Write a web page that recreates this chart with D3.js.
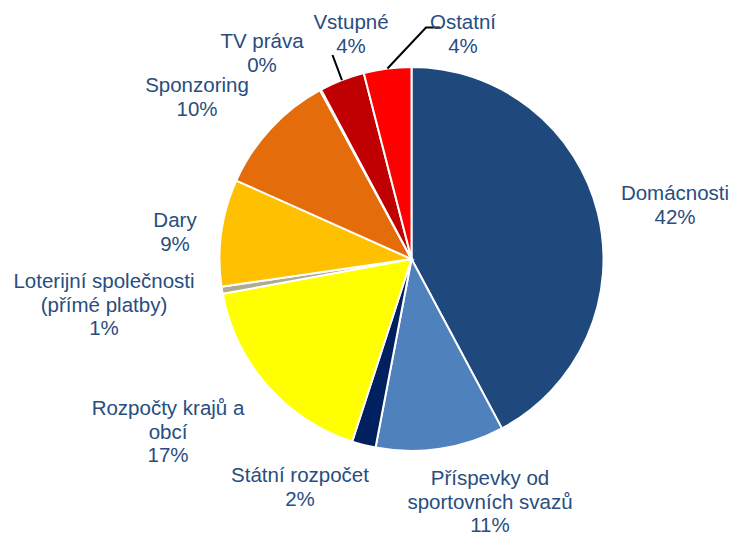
<!DOCTYPE html>
<html>
<head>
<meta charset="utf-8">
<script src="https://cdn.jsdelivr.net/npm/d3@7"></script>
<style>
  body { margin: 0; background: #fff; }
  text { font-family: "Liberation Sans", Arial, sans-serif; }
</style>
</head>
<body>
<div id="chart"></div>
<script>
// -------------------- DATA --------------------
const categories = [
  "Domácnosti", "Příspevky od sportovních svazů", "Státní rozpočet",
  "Rozpočty krajů a obcí", "Loterijní společnosti (přímé platby)", "Dary",
  "Sponzoring", "TV práva", "Vstupné", "Ostatní"
];
const shares = [42.2, 10.8, 2.0, 17.1, 0.6, 9.0, 10.4, 0.1, 3.8, 4.0];
const labelLines = [
  ["Domácnosti"],
  ["Příspevky od", "sportovních svazů"],
  ["Státní rozpočet"],
  ["Rozpočty krajů a", "obcí"],
  ["Loterijní společnosti", "(přímé platby)"],
  ["Dary"],
  ["Sponzoring"],
  ["TV práva"],
  ["Vstupné"],
  ["Ostatní"]
];
const colors = [
  "#1f497d", "#4f81bd", "#002060", "#ffff00", "#b0aa8f",
  "#ffc000", "#e46c0a", "#c0504d", "#c00000", "#ff0000"
];

// label layout: centre x and first baseline y
const labelPos = {
  "Domácnosti": [675, 200],
  "Příspevky od sportovních svazů": [490, 485],
  "Státní rozpočet": [300, 482],
  "Rozpočty krajů a obcí": [168, 415],
  "Loterijní společnosti (přímé platby)": [104, 288],
  "Dary": [175, 227],
  "Sponzoring": [197, 92],
  "TV práva": [262, 48],
  "Vstupné": [351, 29],
  "Ostatní": [463, 29]
};
// leader lines: label-side points, pie end is computed
const leaders = {
  "Vstupné": [[332.5, 55]],
  "Ostatní": [[440, 27.5], [426, 27.5]]
};

const W = 736, H = 535;
const cx = 411.5, cy = 259, R = 192;
const lineH = 23.5;

const svg = d3.select("#chart").append("svg")
  .attr("width", W).attr("height", H);

const pie = d3.pie().sort(null).value(d => d.v);
const arcs = pie(categories.map((c, i) => ({ c, v: shares[i], i })));

const arc = d3.arc().innerRadius(0).outerRadius(R);

const g = svg.append("g").attr("transform", `translate(${cx},${cy})`);

g.selectAll("path")
  .data(arcs)
  .join("path")
  .attr("d", arc)
  .attr("fill", d => colors[d.data.i])
  .attr("stroke", "#fff")
  .attr("stroke-width", 2);

// leader lines
arcs.forEach(a => {
  const pts = leaders[a.data.c];
  if (!pts) return;
  const mid = (a.startAngle + a.endAngle) / 2;
  const end = [cx + R * Math.sin(mid), cy - R * Math.cos(mid)];
  svg.append("path")
    .attr("d", d3.line()(pts.concat([end])))
    .attr("fill", "none")
    .attr("stroke", "#000")
    .attr("stroke-width", 2);
});

// labels
arcs.forEach(a => {
  const [lx, ly] = labelPos[a.data.c];
  const lines = labelLines[a.data.i].concat([Math.round(a.data.v) + "%"]);
  const t = svg.append("text")
    .attr("text-anchor", "middle")
    .attr("font-size", 20.5)
    .attr("fill", "#284d80");
  lines.forEach((s, k) => {
    t.append("tspan").attr("x", lx).attr("y", ly + k * lineH).text(s);
  });
});
</script>
</body>
</html>
